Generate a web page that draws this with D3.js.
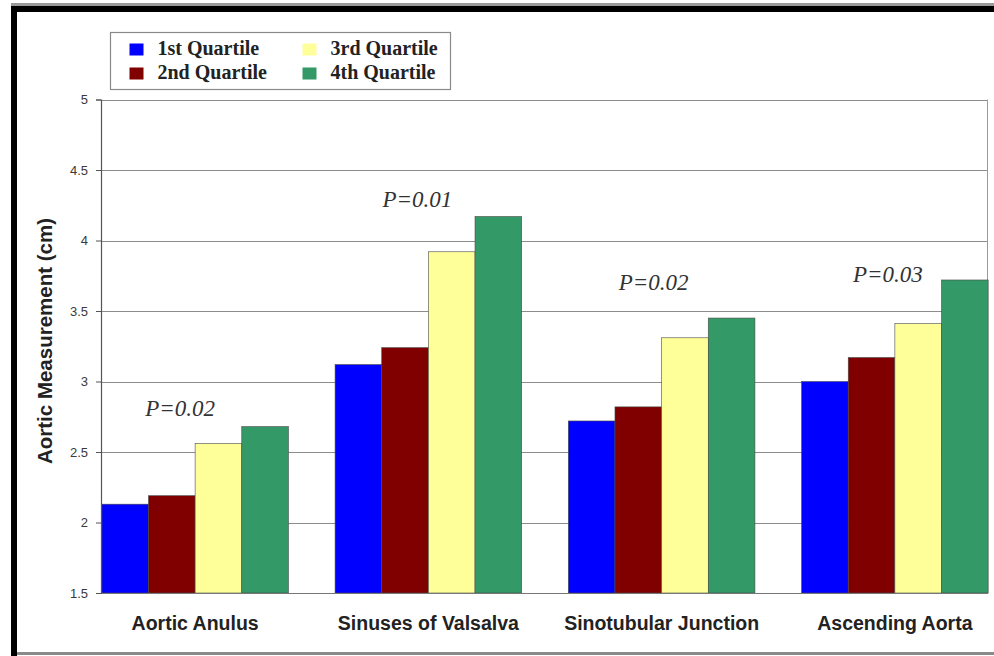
<!DOCTYPE html>
<html>
<head>
<meta charset="utf-8">
<script src="https://cdn.jsdelivr.net/npm/d3@7"></script>
<style>
  html, body { margin: 0; padding: 0; background: #fff; }
  svg { display: block; }
</style>
</head>
<body>
<svg id="chart" width="994" height="656"></svg>
<script>
// Aortic measurements (cm) by quartile at four aortic levels
const categories = ["Aortic Anulus", "Sinuses of Valsalva", "Sinotubular Junction", "Ascending Aorta"];
const seriesNames = ["1st Quartile", "2nd Quartile", "3rd Quartile", "4th Quartile"];
const q1 = [2.13, 3.12, 2.72, 3.00];
const q2 = [2.19, 3.24, 2.82, 3.17];
const q3 = [2.56, 3.92, 3.31, 3.41];
const q4 = [2.68, 4.17, 3.45, 3.72];
const pValues = ["P=0.02", "P=0.01", "P=0.02", "P=0.03"];
const yTicks = [1.5, 2, 2.5, 3, 3.5, 4, 4.5, 5];
const colors = ["#0000FF", "#800000", "#FFFF99", "#339966"];

const series = [q1, q2, q3, q4];

const svg = d3.select("#chart");

// page frame
svg.append("rect").attr("x", 0).attr("y", 0).attr("width", 994).attr("height", 656).attr("fill", "#fff");
svg.append("rect").attr("x", 11).attr("y", 3).attr("width", 983).attr("height", 3).attr("fill", "#9a9a9a");
svg.append("rect").attr("x", 11).attr("y", 6).attr("width", 983).attr("height", 6).attr("fill", "#000");
svg.append("rect").attr("x", 11).attr("y", 6).attr("width", 6).attr("height", 650).attr("fill", "#000");
svg.append("rect").attr("x", 17).attr("y", 652).attr("width", 977).attr("height", 3).attr("fill", "#8a8a8a");

const plot = { left: 101, right: 988, top: 99.5, bottom: 593 };

const y = d3.scaleLinear().domain([1.5, 5]).range([plot.bottom, plot.top]);
const x0 = d3.scaleBand().domain(categories).range([78.5, 1011.5]).paddingInner(0.2).paddingOuter(0.1);
const x1 = d3.scaleBand().domain(d3.range(seriesNames.length)).range([0, x0.bandwidth()]);

// gridlines
svg.append("g")
  .selectAll("line")
  .data(yTicks.filter(t => t > 1.5))
  .join("line")
  .attr("x1", plot.left).attr("x2", plot.right)
  .attr("y1", d => Math.round(y(d)) + 0.5).attr("y2", d => Math.round(y(d)) + 0.5)
  .attr("stroke", "#8c8c8c").attr("stroke-width", 1.2);

// right plot border
svg.append("line")
  .attr("x1", plot.right - 0.5).attr("x2", plot.right - 0.5)
  .attr("y1", y(5)).attr("y2", plot.bottom)
  .attr("stroke", "#9a9a9a").attr("stroke-width", 1);

// bars
const groups = svg.append("g")
  .selectAll("g")
  .data(categories)
  .join("g")
  .attr("transform", d => `translate(${x0(d)},0)`);

groups.selectAll("rect")
  .data((d, i) => series.map((s, k) => ({ k, v: s[i] })))
  .join("rect")
  .attr("x", d => x1(d.k))
  .attr("width", x1.bandwidth())
  .attr("y", d => y(d.v))
  .attr("height", d => y(1.5) - y(d.v))
  .attr("fill", d => colors[d.k])
  .attr("stroke", "#4a4a4a")
  .attr("stroke-width", 0.6);

// x axis line
svg.append("line")
  .attr("x1", plot.left).attr("x2", plot.right)
  .attr("y1", plot.bottom + 0.5).attr("y2", plot.bottom + 0.5)
  .attr("stroke", "#777").attr("stroke-width", 1.2);

// y axis
const yAxis = d3.axisLeft(y).tickValues(yTicks).tickSize(5).tickPadding(8).tickFormat(d => String(d));
const yg = svg.append("g").attr("transform", `translate(${plot.left},0)`).call(yAxis);
yg.select(".domain").attr("stroke", "#555").attr("stroke-width", 1.2);
yg.selectAll(".tick line").attr("stroke", "#555");
yg.selectAll(".tick text")
  .attr("font-family", "Liberation Sans, Arial, sans-serif")
  .attr("font-size", 13)
  .attr("fill", "#3a3a3a");

// category labels
svg.append("g")
  .selectAll("text")
  .data(categories)
  .join("text")
  .attr("x", d => x0(d) + x0.bandwidth() / 2)
  .attr("y", 630)
  .attr("text-anchor", "middle")
  .attr("font-family", "Liberation Sans, Arial, sans-serif")
  .attr("font-weight", "bold")
  .attr("font-size", 19.5)
  .attr("fill", "#222")
  .text(d => d);

// significance labels, placed relative to each group's tallest bar
const pShift = [[-15, -11], [-11, -10], [-8, -28], [-7, 2]];
svg.append("g")
  .selectAll("text")
  .data(categories)
  .join("text")
  .attr("x", (d, i) => x0(d) + x0.bandwidth() / 2 + pShift[i][0])
  .attr("y", (d, i) => y(d3.max(series, s => s[i])) + pShift[i][1])
  .attr("text-anchor", "middle")
  .attr("font-family", "Liberation Serif, Times New Roman, serif")
  .attr("font-style", "italic")
  .attr("font-size", 23)
  .attr("fill", "#333")
  .text((d, i) => pValues[i]);

// y axis title
svg.append("text")
  .attr("transform", "translate(44.5,341) rotate(-90)")
  .attr("text-anchor", "middle")
  .attr("dominant-baseline", "central")
  .attr("font-family", "Liberation Sans, Arial, sans-serif")
  .attr("font-weight", "bold")
  .attr("font-size", 20.5)
  .attr("fill", "#222")
  .text("Aortic Measurement (cm)");

// legend
const legend = svg.append("g").attr("transform", "translate(110.5,32.5)");
legend.append("rect")
  .attr("width", 340).attr("height", 57)
  .attr("fill", "#fff").attr("stroke", "#8a8a8a").attr("stroke-width", 1.2);

const items = legend.selectAll("g.item")
  .data(seriesNames)
  .join("g")
  .attr("class", "item")
  .attr("transform", (d, i) => `translate(${i < 2 ? 19 : 192},${i % 2 === 0 ? 11 : 35})`);

items.append("rect")
  .attr("width", 14).attr("height", 12)
  .attr("fill", (d, i) => colors[i]);

items.append("text")
  .attr("x", 28).attr("y", 11.5)
  .attr("font-family", "Liberation Serif, Times New Roman, serif")
  .attr("font-weight", "bold")
  .attr("font-size", 20)
  .attr("fill", "#222")
  .text(d => d);
</script>
</body>
</html>
